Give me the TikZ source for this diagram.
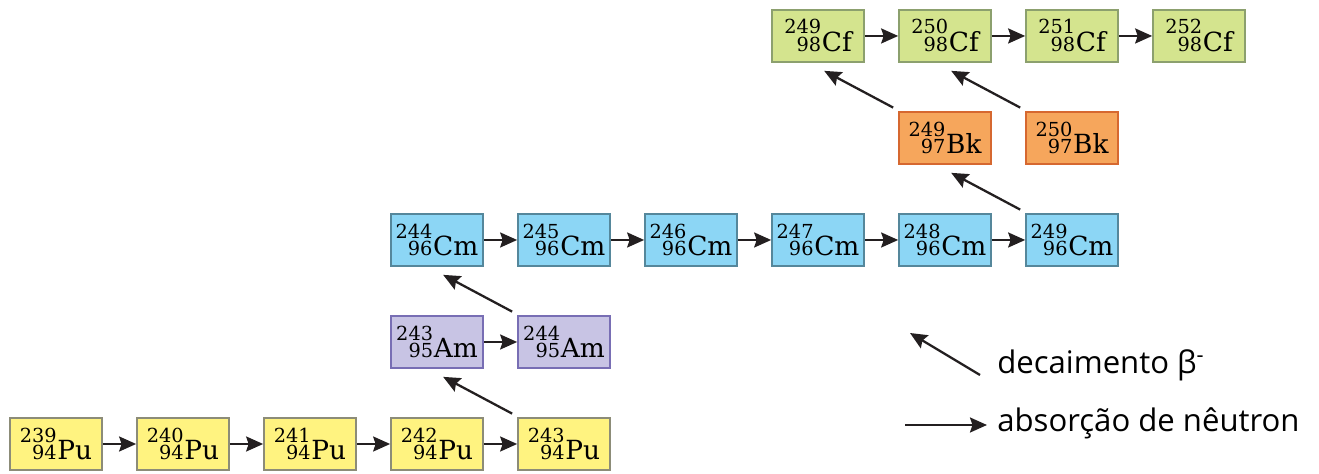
\documentclass[tikz,border=0pt]{standalone}
\usepackage{fontspec}
\setmainfont{DejaVu Serif}
\newfontfamily\keyfont{Open Sans}
\usetikzlibrary{arrows.meta,positioning}
\definecolor{puYellow}{RGB}{255,243,128}
\definecolor{puEdge}{RGB}{140,140,120}
\definecolor{amLilac}{RGB}{200,196,228}
\definecolor{amEdge}{RGB}{120,110,180}
\definecolor{cmBlue}{RGB}{140,214,245}
\definecolor{cmEdge}{RGB}{85,135,155}
\definecolor{bkOrange}{RGB}{246,166,92}
\definecolor{bkEdge}{RGB}{214,104,48}
\definecolor{cfGreen}{RGB}{212,228,142}
\definecolor{cfEdge}{RGB}{140,160,110}
\definecolor{arrowInk}{RGB}{35,31,32}
% mass number over atomic number, right aligned
\newcommand{\nuc}[3]{{\fontsize{11}{12}\selectfont\raisebox{10.2pt}{#1}\llap{#2}}\kern0.4pt#3}

\begin{document}
\begin{tikzpicture}[node distance=0.965cm and 0.665cm,
    iso/.style={draw, line width=1pt, minimum width=1.84cm, minimum height=1.04cm, inner sep=0pt, font=\fontsize{15}{17}\selectfont},
    puBox/.style={iso, fill=puYellow, draw=puEdge},
    amBox/.style={iso, fill=amLilac, draw=amEdge},
    cmBox/.style={iso, fill=cmBlue, draw=cmEdge},
    bkBox/.style={iso, fill=bkOrange, draw=bkEdge},
    cfBox/.style={iso, fill=cfGreen, draw=cfEdge},
    capture/.style={-{Stealth[length=3.4mm,width=3mm,inset=0.5mm]}, line width=1.3pt, color=arrowInk},
    decay/.style={capture},
    keytext/.style={inner sep=0pt, anchor=west, font=\keyfont\fontsize{17.7}{20}\selectfont}]
    \useasboundingbox (0,0) rectangle (26.38,-9.48);

    % plutonium chain
    \node[puBox] (pu239) at (1.12,-8.88) {\nuc{239}{94}{Pu}};
    \node[puBox, right=of pu239] (pu240) {\nuc{240}{94}{Pu}};
    \node[puBox, right=of pu240] (pu241) {\nuc{241}{94}{Pu}};
    \node[puBox, right=of pu241] (pu242) {\nuc{242}{94}{Pu}};
    \node[puBox, right=of pu242] (pu243) {\nuc{243}{94}{Pu}};

    % americium
    \node[amBox, above=of pu242] (am243) {\nuc{243}{95}{Am}};
    \node[amBox, above=of pu243] (am244) {\nuc{244}{95}{Am}};

    % curium chain
    \node[cmBox, above=of am243] (cm244) {\nuc{244}{96}{Cm}};
    \node[cmBox, right=of cm244] (cm245) {\nuc{245}{96}{Cm}};
    \node[cmBox, right=of cm245] (cm246) {\nuc{246}{96}{Cm}};
    \node[cmBox, right=of cm246] (cm247) {\nuc{247}{96}{Cm}};
    \node[cmBox, right=of cm247] (cm248) {\nuc{248}{96}{Cm}};
    \node[cmBox, right=of cm248] (cm249) {\nuc{249}{96}{Cm}};

    % berkelium
    \node[bkBox, above=of cm248] (bk249) {\nuc{249}{97}{Bk}};
    \node[bkBox, above=of cm249] (bk250) {\nuc{250}{97}{Bk}};

    % californium chain
    \node[cfBox, above=of bk249] (cf250) {\nuc{250}{98}{Cf}};
    \node[cfBox, left=of cf250] (cf249) {\nuc{249}{98}{Cf}};
    \node[cfBox, right=of cf250] (cf251) {\nuc{251}{98}{Cf}};
    \node[cfBox, right=of cf251] (cf252) {\nuc{252}{98}{Cf}};

    % neutron capture
    \draw[capture] (pu239)--(pu240);
    \draw[capture] (pu240)--(pu241);
    \draw[capture] (pu241)--(pu242);
    \draw[capture] (pu242)--(pu243);
    \draw[capture] (am243)--(am244);
    \draw[capture] (cm244)--(cm245);
    \draw[capture] (cm245)--(cm246);
    \draw[capture] (cm246)--(cm247);
    \draw[capture] (cm247)--(cm248);
    \draw[capture] (cm248)--(cm249);
    \draw[capture] (cf249)--(cf250);
    \draw[capture] (cf250)--(cf251);
    \draw[capture] (cf251)--(cf252);

    % beta decay
    \draw[decay] ([shift={(-0.1,0.07)}]pu243.north west)--([shift={(1.06,-0.16)}]am243.south west);
    \draw[decay] ([shift={(-0.1,0.07)}]am244.north west)--([shift={(1.06,-0.16)}]cm244.south west);
    \draw[decay] ([shift={(-0.1,0.07)}]cm249.north west)--([shift={(1.06,-0.16)}]bk249.south west);
    \draw[decay] ([shift={(-0.1,0.07)}]bk249.north west)--([shift={(1.06,-0.16)}]cf249.south west);
    \draw[decay] ([shift={(-0.1,0.07)}]bk250.north west)--([shift={(1.06,-0.16)}]cf250.south west);

    % key
    \node[keytext] (betaKey) at (19.94,-7.3) {decaimento β\textsuperscript{-}};
    \node[keytext] (nKey) at (19.94,-8.46) {absorção de nêutron};
    \coordinate (betaTail) at (19.6,-7.5);
    \coordinate (betaTip) at (18.2,-6.66);
    \coordinate (nTail) at (18.1,-8.5);
    \draw[decay] (betaTail)--(betaTip);
    \draw[capture, shorten >=0.2cm] (nTail)--(nTail -| nKey.west);
\end{tikzpicture}
\end{document}
